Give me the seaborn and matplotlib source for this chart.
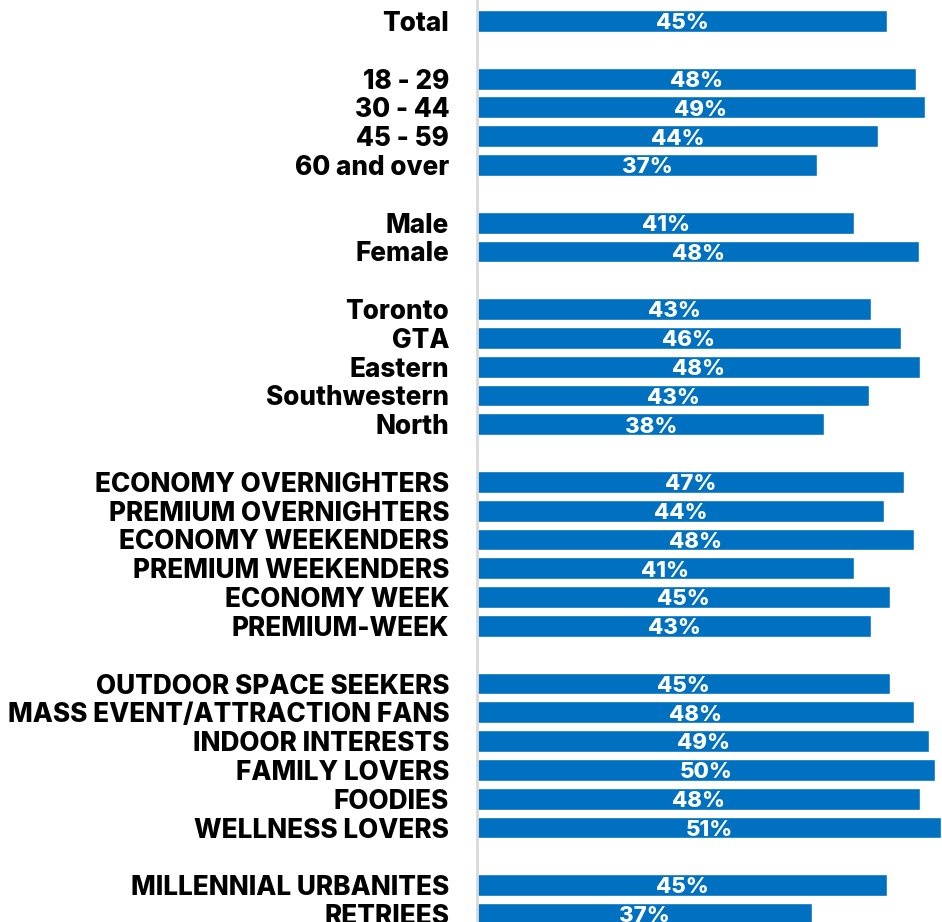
import matplotlib
matplotlib.use("Agg")
import matplotlib.pyplot as plt
import seaborn as sns
import pandas as pd

# categories, grouped; a spacer row goes between groups
groups = [
    ["Total"],
    ["18 - 29", "30 - 44", "45 - 59", "60 and over"],
    ["Male", "Female"],
    ["Toronto", "GTA", "Eastern", "Southwestern", "North"],
    ["ECONOMY OVERNIGHTERS", "PREMIUM OVERNIGHTERS", "ECONOMY WEEKENDERS",
     "PREMIUM WEEKENDERS", "ECONOMY WEEK", "PREMIUM-WEEK"],
    ["OUTDOOR SPACE SEEKERS", "MASS EVENT/ATTRACTION FANS", "INDOOR INTERESTS",
     "FAMILY LOVERS", "FOODIES", "WELLNESS LOVERS"],
    ["MILLENNIAL URBANITES", "RETRIEES"],
]
values = [
    [45.0],
    [48.2, 49.1, 44.0, 37.3],
    [41.4, 48.5],
    [43.2, 46.5, 48.6, 43.0, 38.1],
    [46.8, 44.6, 47.9, 41.3, 45.3, 43.2],
    [45.3, 47.9, 49.6, 50.2, 48.6, 50.9],
    [45.0, 36.7],
]
shown = [
    [45],
    [48, 49, 44, 37],
    [41, 48],
    [43, 46, 48, 43, 38],
    [47, 44, 48, 41, 45, 43],
    [45, 48, 49, 50, 48, 51],
    [45, 37],
]

cats, vals, labs, order = [], [], [], []
for i, (g, v, s) in enumerate(zip(groups, values, shown)):
    if i > 0:
        order.append(" " * i)  # spacer row
    cats += g
    vals += v
    labs += [f"{x}%" for x in s]
    order += g

df = pd.DataFrame({"cat": cats, "val": vals})

sns.set_style("white")
plt.rcParams["font.family"] = ["Inter", "DejaVu Sans"]

fig = plt.figure(figsize=(9.42, 9.22), dpi=100)
ax = fig.add_axes([477 / 942, 0, 1 - 477 / 942, 1])

sns.barplot(data=df, x="val", y="cat", order=order, color="#0070C0",
            saturation=1, width=0.76, errorbar=None, ax=ax)

# value labels, centred in each bar
for bar, lab in zip(ax.patches, labs):
    ax.text(bar.get_x() + bar.get_width() / 2,
            bar.get_y() + bar.get_height() / 2 + 0.08, lab,
            ha="center", va="center", color="white",
            fontsize=16, fontweight="heavy")

ax.set_xlim(0, 51)
ax.set_ylim(31.28, -0.73)
ax.set_xlabel("")
ax.set_ylabel("")
ax.set_xticks([])
ax.tick_params(axis="y", length=0, pad=20)
for t in ax.get_yticklabels():
    t.set_fontsize(18.8)
    t.set_fontweight("heavy")
    t.set_color("black")

for side in ["top", "right", "bottom"]:
    ax.spines[side].set_visible(False)
ax.spines["left"].set_color("#d9d9d9")
ax.spines["left"].set_linewidth(2)

fig.savefig("out.png", dpi=100)
